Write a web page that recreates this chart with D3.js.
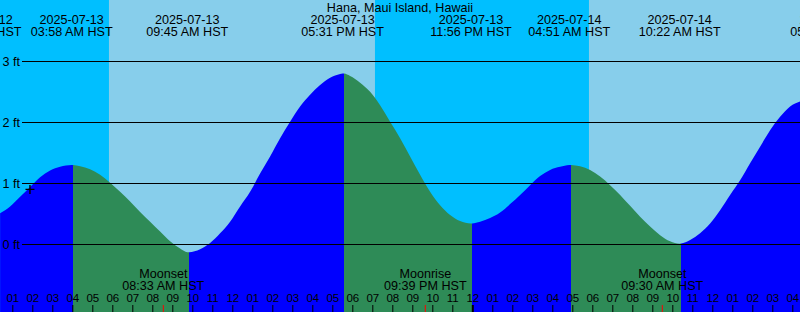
<!DOCTYPE html>
<html>
<head>
<meta charset="utf-8">
<script src="https://cdn.jsdelivr.net/npm/d3@7"></script>
<style>
  html, body { margin: 0; padding: 0; background: #fff; }
  svg { display: block; }
  text { font-family: "Liberation Sans", Arial, Helvetica, sans-serif; fill: #000; }
</style>
</head>
<body>
<svg id="chart" width="800" height="312"></svg>
<script>
// ---------- DATA (hours since 2025-07-13 00:00 HST, heights in ft) ----------
const title = "Hana, Maui Island, Hawaii";

const tideHours = [0.39, 0.89, 1.39, 1.89, 2.39, 2.89, 3.39, 3.97, 4.39, 4.89,
  5.39, 5.89, 6.39, 6.89, 7.39, 7.89, 8.39, 8.89, 9.39, 9.75,
  10.39, 10.89, 11.39, 11.89, 12.39, 12.89, 13.39, 13.89, 14.39, 14.89,
  15.39, 15.89, 16.39, 16.89, 17.39, 17.52, 17.89, 18.39, 18.89, 19.39,
  19.89, 20.39, 20.89, 21.39, 21.89, 22.39, 22.89, 23.39, 23.93, 24.39,
  24.89, 25.39, 25.89, 26.39, 26.89, 27.39, 27.89, 28.39, 28.85, 29.39,
  29.89, 30.39, 30.89, 31.39, 31.89, 32.39, 32.89, 33.39, 33.89, 34.37,
  34.89, 35.39, 35.89, 36.39, 36.89, 37.39, 37.89, 38.39, 38.89, 39.39,
  39.89, 40.39];
const tideFeet = [0.51, 0.62, 0.78, 0.94, 1.10, 1.21, 1.27, 1.30, 1.28, 1.23,
  1.14, 1.01, 0.86, 0.70, 0.53, 0.37, 0.21, 0.05, -0.07, -0.13,
  -0.08, 0.02, 0.18, 0.37, 0.62, 0.86, 1.16, 1.44, 1.74, 2.01,
  2.26, 2.45, 2.61, 2.73, 2.79, 2.80, 2.76, 2.65, 2.50, 2.28,
  2.01, 1.74, 1.44, 1.14, 0.86, 0.64, 0.48, 0.38, 0.34, 0.37,
  0.43, 0.52, 0.66, 0.81, 0.97, 1.12, 1.22, 1.27, 1.30, 1.28,
  1.22, 1.11, 0.97, 0.81, 0.63, 0.45, 0.29, 0.15, 0.05, 0.01,
  0.07, 0.18, 0.34, 0.56, 0.81, 1.05, 1.33, 1.60, 1.87, 2.09,
  2.26, 2.34];

// tide extremes (header labels)
const eventDates = ["2025-07-12", "2025-07-13", "2025-07-13", "2025-07-13", "2025-07-13", "2025-07-14", "2025-07-14", "2025-07-14"];
const eventTimes = ["11:25 PM", "03:58 AM", "09:45 AM", "05:31 PM", "11:56 PM", "04:51 AM", "10:22 AM", "05:58 PM"];
const eventKinds = ["low", "high", "low", "high", "low", "high", "low", "high"];

// sun
const sunDates = ["2025-07-12", "2025-07-13", "2025-07-13", "2025-07-14", "2025-07-14"];
const sunTimes = ["07:08 PM", "05:50 AM", "07:08 PM", "05:50 AM", "07:08 PM"];
const sunKinds = ["set", "rise", "set", "rise", "set"];

// moon
const moonDates = ["2025-07-13", "2025-07-13", "2025-07-14"];
const moonTimes = ["08:33 AM", "09:39 PM", "09:30 AM"];
const moonKinds = ["Moonset", "Moonrise", "Moonset"];

// current-time mark
const markTime = "2025-07-13 01:53 AM";
const markFeet = 0.9;

const levelTicks = [0, 1, 2, 3];

// ---------- SCALES ----------
const W = 800, H = 312;
const parse = d3.utcParse("%Y-%m-%d %I:%M %p");
const base = Date.UTC(2025, 6, 13, 0, 0, 0);
const fromHours = h => new Date(base + h * 3600e3);
const start = fromHours(0.385), end = fromHours(40.385);

const x = d3.scaleUtc().domain([start, end]).range([0, W]);
const y = d3.scaleLinear().domain([0, 3]).range([244.3, 61.3]);

const svg = d3.select("#chart");
const FONT = 12.6;
const FILL_SHIFT = 1.3; // rising/falling colour boundary sits slightly right of the event instant

// ---------- BACKGROUND (night / day) ----------
svg.append("rect").attr("x", 0).attr("y", 0).attr("width", W).attr("height", H).attr("fill", "#00bfff");
const sun = sunDates.map((d, i) => ({ t: parse(d + " " + sunTimes[i]), kind: sunKinds[i] }));
for (let i = 0; i < sun.length - 1; i++) {
  if (sun[i].kind === "rise") {
    const x0 = Math.max(0, x(sun[i].t)), x1 = Math.min(W, x(sun[i + 1].t));
    svg.append("rect").attr("x", x0).attr("y", 0).attr("width", Math.max(0, x1 - x0)).attr("height", H).attr("fill", "#87ceeb");
  }
}

// ---------- TIDE AREA ----------
const tide = tideHours.map((h, i) => ({ t: fromHours(h), v: tideFeet[i] }));
const events = eventDates.map((d, i) => ({ t: parse(d + " " + eventTimes[i]), date: d, time: eventTimes[i], kind: eventKinds[i] }));

const area = d3.area()
  .x(d => x(d.t))
  .y0(H)
  .y1(d => y(d.v))
  .curve(d3.curveMonotoneX);

const defs = svg.append("defs");
for (let i = 0; i < events.length - 1; i++) {
  const a = events[i], b = events[i + 1];
  const x0 = Math.round(x(a.t) + FILL_SHIFT), x1 = Math.round(x(b.t) + FILL_SHIFT);
  defs.append("clipPath").attr("id", "seg" + i)
    .append("rect").attr("x", x0).attr("y", 0).attr("width", x1 - x0).attr("height", H);
  svg.append("path")
    .datum(tide)
    .attr("d", area)
    .attr("fill", b.kind === "high" ? "#0000ff" : "#2e8b57")
    .attr("clip-path", `url(#seg${i})`);
}

// ---------- GRID LINES + LEVEL LABELS ----------
svg.append("g").selectAll("line").data(levelTicks).join("line")
  .attr("x1", 22).attr("x2", W)
  .attr("y1", d => Math.round(y(d)) + 0.5).attr("y2", d => Math.round(y(d)) + 0.5)
  .attr("stroke", "#000").attr("stroke-width", 1);
svg.append("g").selectAll("text").data(levelTicks).join("text")
  .attr("x", 2.5).attr("y", d => y(d) + 4.3)
  .attr("font-size", FONT)
  .text(d => d + " ft");

// ---------- CURRENT MARK ----------
const mx = x(parse(markTime)), my = y(markFeet);
svg.append("path")
  .attr("d", `M${mx - 4.5},${my}H${mx + 4.5}M${mx},${my - 4.5}V${my + 4.5}`)
  .attr("stroke", "#000").attr("stroke-width", 1.4).attr("fill", "none");

// ---------- TITLE + TIDE EVENT LABELS ----------
svg.append("text").attr("x", W / 2).attr("y", 11.5).attr("text-anchor", "middle")
  .attr("font-size", FONT).text(title);
const hdr = svg.append("g").attr("text-anchor", "middle").attr("font-size", FONT);
events.forEach(e => {
  hdr.append("text").attr("x", x(e.t)).attr("y", 24).text(e.date);
  hdr.append("text").attr("x", x(e.t)).attr("y", 36).text(e.time + " HST");
});

// ---------- MOON LABELS ----------
const moon = moonDates.map((d, i) => ({ t: parse(d + " " + moonTimes[i]), time: moonTimes[i], kind: moonKinds[i] }));
const mg = svg.append("g").attr("text-anchor", "middle").attr("font-size", FONT);
moon.forEach(m => {
  mg.append("text").attr("x", x(m.t)).attr("y", 278.3).text(m.kind);
  mg.append("text").attr("x", x(m.t)).attr("y", 289.5).text(m.time + " HST");
});

// ---------- HOUR AXIS ----------
const axis = d3.axisTop(x)
  .ticks(d3.utcHour.every(1))
  .tickFormat(d3.utcFormat("%I"))
  .tickSize(7)
  .tickPadding(3.3);
const ag = svg.append("g").attr("transform", `translate(0,${H})`).call(axis);
ag.select(".domain").remove();
ag.selectAll("text").attr("font-size", 11.5).attr("font-family", "'Liberation Sans', Arial, sans-serif").attr("fill", "#000");
ag.selectAll(".tick line").attr("stroke", "#000")
  .attr("stroke-width", d => d.getUTCHours() === 0 ? 2 : 1);

// red moon ticks
svg.append("g").selectAll("line").data(moon).join("line")
  .attr("x1", d => x(d.t)).attr("x2", d => x(d.t))
  .attr("y1", H - 7).attr("y2", H)
  .attr("stroke", "#ff0000").attr("stroke-width", 1);
</script>
</body>
</html>
